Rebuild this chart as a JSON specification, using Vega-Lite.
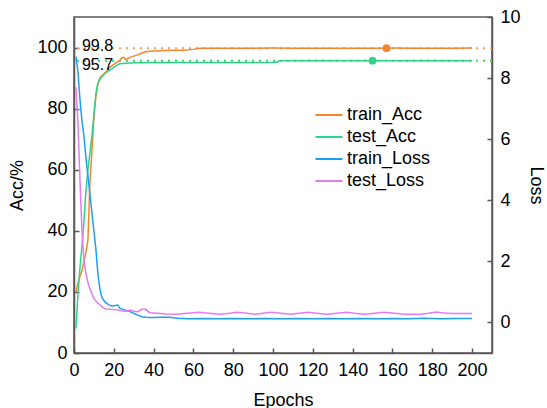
{
  "$schema": "https://vega.github.io/schema/vega-lite/v6.json",
  "width": 418,
  "height": 336,
  "autosize": {"type": "none"},
  "padding": {"left": 74, "top": 17, "right": 55, "bottom": 55},
  "background": "white",
  "config": {
    "font": "Liberation Sans",
    "view": {"stroke": "#5b5555", "strokeWidth": 1.5},
    "axis": {
      "domainColor": "#5b5555", "domainWidth": 1.5,
      "tickColor": "#5b5555", "tickWidth": 1.5, "tickSize": -5,
      "grid": false, "labelFontSize": 18, "titleFontSize": 18,
      "titleFontWeight": "normal", "labelColor": "black", "titleColor": "black",
      "labelFlush": false, "labelOverlap": false
    },
    "legend": {
      "symbolType": "M-1.35,0H1.35", "symbolSize": 400, "symbolStrokeWidth": 2,
      "labelFontSize": 18, "labelColor": "black", "rowPadding": 2, "labelOffset": 7
    }
  },
  "datasets": {
    "acc": [
      {"epoch": 1, "series": "train_Acc", "value": 20},
      {"epoch": 2, "series": "train_Acc", "value": 23},
      {"epoch": 3, "series": "train_Acc", "value": 25},
      {"epoch": 4, "series": "train_Acc", "value": 27},
      {"epoch": 5, "series": "train_Acc", "value": 30},
      {"epoch": 6, "series": "train_Acc", "value": 33},
      {"epoch": 7, "series": "train_Acc", "value": 37},
      {"epoch": 8, "series": "train_Acc", "value": 56},
      {"epoch": 9, "series": "train_Acc", "value": 66},
      {"epoch": 10, "series": "train_Acc", "value": 77},
      {"epoch": 11, "series": "train_Acc", "value": 84},
      {"epoch": 12, "series": "train_Acc", "value": 88},
      {"epoch": 13, "series": "train_Acc", "value": 90},
      {"epoch": 14, "series": "train_Acc", "value": 90.8},
      {"epoch": 15, "series": "train_Acc", "value": 91.4},
      {"epoch": 16, "series": "train_Acc", "value": 92},
      {"epoch": 17, "series": "train_Acc", "value": 92.8},
      {"epoch": 18, "series": "train_Acc", "value": 93.5},
      {"epoch": 19, "series": "train_Acc", "value": 94},
      {"epoch": 20, "series": "train_Acc", "value": 94.5},
      {"epoch": 21, "series": "train_Acc", "value": 95},
      {"epoch": 22, "series": "train_Acc", "value": 95.4},
      {"epoch": 23, "series": "train_Acc", "value": 95.8},
      {"epoch": 24, "series": "train_Acc", "value": 96.7},
      {"epoch": 25, "series": "train_Acc", "value": 96.8},
      {"epoch": 26, "series": "train_Acc", "value": 96.1},
      {"epoch": 27, "series": "train_Acc", "value": 96.4},
      {"epoch": 28, "series": "train_Acc", "value": 96.8},
      {"epoch": 30, "series": "train_Acc", "value": 97.2},
      {"epoch": 32, "series": "train_Acc", "value": 97.6},
      {"epoch": 33, "series": "train_Acc", "value": 97.9},
      {"epoch": 34, "series": "train_Acc", "value": 98.2},
      {"epoch": 36, "series": "train_Acc", "value": 98.6},
      {"epoch": 38, "series": "train_Acc", "value": 98.8},
      {"epoch": 41, "series": "train_Acc", "value": 98.9},
      {"epoch": 45, "series": "train_Acc", "value": 99.0},
      {"epoch": 50, "series": "train_Acc", "value": 99.1},
      {"epoch": 55, "series": "train_Acc", "value": 99.15},
      {"epoch": 60, "series": "train_Acc", "value": 99.4},
      {"epoch": 62, "series": "train_Acc", "value": 99.7},
      {"epoch": 65, "series": "train_Acc", "value": 99.75},
      {"epoch": 70, "series": "train_Acc", "value": 99.8},
      {"epoch": 80, "series": "train_Acc", "value": 99.78},
      {"epoch": 90, "series": "train_Acc", "value": 99.8},
      {"epoch": 100, "series": "train_Acc", "value": 99.82},
      {"epoch": 110, "series": "train_Acc", "value": 99.8},
      {"epoch": 120, "series": "train_Acc", "value": 99.79},
      {"epoch": 130, "series": "train_Acc", "value": 99.81},
      {"epoch": 140, "series": "train_Acc", "value": 99.8},
      {"epoch": 150, "series": "train_Acc", "value": 99.8},
      {"epoch": 160, "series": "train_Acc", "value": 99.82},
      {"epoch": 170, "series": "train_Acc", "value": 99.8},
      {"epoch": 180, "series": "train_Acc", "value": 99.81},
      {"epoch": 190, "series": "train_Acc", "value": 99.8},
      {"epoch": 200, "series": "train_Acc", "value": 99.82},
      {"epoch": 1, "series": "test_Acc", "value": 8},
      {"epoch": 2, "series": "test_Acc", "value": 19.6},
      {"epoch": 3, "series": "test_Acc", "value": 28},
      {"epoch": 4, "series": "test_Acc", "value": 35},
      {"epoch": 5, "series": "test_Acc", "value": 43},
      {"epoch": 6, "series": "test_Acc", "value": 53},
      {"epoch": 7, "series": "test_Acc", "value": 60},
      {"epoch": 8, "series": "test_Acc", "value": 65.5},
      {"epoch": 9, "series": "test_Acc", "value": 71},
      {"epoch": 10, "series": "test_Acc", "value": 78},
      {"epoch": 11, "series": "test_Acc", "value": 85},
      {"epoch": 12, "series": "test_Acc", "value": 88.3},
      {"epoch": 13, "series": "test_Acc", "value": 89.5},
      {"epoch": 14, "series": "test_Acc", "value": 90.4},
      {"epoch": 15, "series": "test_Acc", "value": 91.2},
      {"epoch": 16, "series": "test_Acc", "value": 91.8},
      {"epoch": 17, "series": "test_Acc", "value": 92.2},
      {"epoch": 18, "series": "test_Acc", "value": 92.6},
      {"epoch": 19, "series": "test_Acc", "value": 93},
      {"epoch": 20, "series": "test_Acc", "value": 93.5},
      {"epoch": 21, "series": "test_Acc", "value": 94},
      {"epoch": 22, "series": "test_Acc", "value": 94.4},
      {"epoch": 23, "series": "test_Acc", "value": 94.7},
      {"epoch": 25, "series": "test_Acc", "value": 94.8},
      {"epoch": 28, "series": "test_Acc", "value": 94.9},
      {"epoch": 32, "series": "test_Acc", "value": 95.0},
      {"epoch": 40, "series": "test_Acc", "value": 95.1},
      {"epoch": 50, "series": "test_Acc", "value": 95.1},
      {"epoch": 60, "series": "test_Acc", "value": 95.1},
      {"epoch": 70, "series": "test_Acc", "value": 95.12},
      {"epoch": 80, "series": "test_Acc", "value": 95.1},
      {"epoch": 90, "series": "test_Acc", "value": 95.1},
      {"epoch": 100, "series": "test_Acc", "value": 95.15},
      {"epoch": 102, "series": "test_Acc", "value": 95.2},
      {"epoch": 103, "series": "test_Acc", "value": 95.65},
      {"epoch": 105, "series": "test_Acc", "value": 95.7},
      {"epoch": 120, "series": "test_Acc", "value": 95.7},
      {"epoch": 140, "series": "test_Acc", "value": 95.7},
      {"epoch": 160, "series": "test_Acc", "value": 95.7},
      {"epoch": 180, "series": "test_Acc", "value": 95.7},
      {"epoch": 200, "series": "test_Acc", "value": 95.7}
    ],
    "loss": [
      {"epoch": 1, "series": "train_Loss", "value": 8.7},
      {"epoch": 2, "series": "train_Loss", "value": 8.2},
      {"epoch": 3, "series": "train_Loss", "value": 7.3},
      {"epoch": 4, "series": "train_Loss", "value": 6.6},
      {"epoch": 5, "series": "train_Loss", "value": 6.1},
      {"epoch": 6, "series": "train_Loss", "value": 5.4},
      {"epoch": 7, "series": "train_Loss", "value": 4.8},
      {"epoch": 8, "series": "train_Loss", "value": 4.2},
      {"epoch": 9, "series": "train_Loss", "value": 3.6},
      {"epoch": 10, "series": "train_Loss", "value": 3.0},
      {"epoch": 11, "series": "train_Loss", "value": 2.4},
      {"epoch": 12, "series": "train_Loss", "value": 1.6},
      {"epoch": 13, "series": "train_Loss", "value": 1.1},
      {"epoch": 14, "series": "train_Loss", "value": 0.82},
      {"epoch": 15, "series": "train_Loss", "value": 0.72},
      {"epoch": 16, "series": "train_Loss", "value": 0.65},
      {"epoch": 17, "series": "train_Loss", "value": 0.6},
      {"epoch": 18, "series": "train_Loss", "value": 0.56},
      {"epoch": 19, "series": "train_Loss", "value": 0.54},
      {"epoch": 20, "series": "train_Loss", "value": 0.55},
      {"epoch": 22, "series": "train_Loss", "value": 0.57},
      {"epoch": 23, "series": "train_Loss", "value": 0.47},
      {"epoch": 25, "series": "train_Loss", "value": 0.42},
      {"epoch": 27, "series": "train_Loss", "value": 0.38},
      {"epoch": 29, "series": "train_Loss", "value": 0.33},
      {"epoch": 31, "series": "train_Loss", "value": 0.27},
      {"epoch": 32, "series": "train_Loss", "value": 0.24},
      {"epoch": 34, "series": "train_Loss", "value": 0.19},
      {"epoch": 36, "series": "train_Loss", "value": 0.17},
      {"epoch": 40, "series": "train_Loss", "value": 0.16},
      {"epoch": 44, "series": "train_Loss", "value": 0.17},
      {"epoch": 48, "series": "train_Loss", "value": 0.17},
      {"epoch": 52, "series": "train_Loss", "value": 0.14},
      {"epoch": 57, "series": "train_Loss", "value": 0.12},
      {"epoch": 65, "series": "train_Loss", "value": 0.13},
      {"epoch": 72, "series": "train_Loss", "value": 0.12},
      {"epoch": 80, "series": "train_Loss", "value": 0.13},
      {"epoch": 88, "series": "train_Loss", "value": 0.12},
      {"epoch": 96, "series": "train_Loss", "value": 0.13},
      {"epoch": 104, "series": "train_Loss", "value": 0.12},
      {"epoch": 112, "series": "train_Loss", "value": 0.13},
      {"epoch": 120, "series": "train_Loss", "value": 0.12},
      {"epoch": 128, "series": "train_Loss", "value": 0.13},
      {"epoch": 136, "series": "train_Loss", "value": 0.12},
      {"epoch": 144, "series": "train_Loss", "value": 0.13},
      {"epoch": 152, "series": "train_Loss", "value": 0.12},
      {"epoch": 160, "series": "train_Loss", "value": 0.13},
      {"epoch": 168, "series": "train_Loss", "value": 0.12},
      {"epoch": 176, "series": "train_Loss", "value": 0.14},
      {"epoch": 184, "series": "train_Loss", "value": 0.12},
      {"epoch": 192, "series": "train_Loss", "value": 0.13},
      {"epoch": 200, "series": "train_Loss", "value": 0.13},
      {"epoch": 1, "series": "test_Loss", "value": 7.7},
      {"epoch": 2, "series": "test_Loss", "value": 6.5},
      {"epoch": 3, "series": "test_Loss", "value": 4.66},
      {"epoch": 4, "series": "test_Loss", "value": 3.0},
      {"epoch": 5, "series": "test_Loss", "value": 2.04},
      {"epoch": 6, "series": "test_Loss", "value": 1.61},
      {"epoch": 7, "series": "test_Loss", "value": 1.3},
      {"epoch": 8, "series": "test_Loss", "value": 1.1},
      {"epoch": 9, "series": "test_Loss", "value": 0.94},
      {"epoch": 10, "series": "test_Loss", "value": 0.78},
      {"epoch": 11, "series": "test_Loss", "value": 0.7},
      {"epoch": 12, "series": "test_Loss", "value": 0.63},
      {"epoch": 13, "series": "test_Loss", "value": 0.58},
      {"epoch": 14, "series": "test_Loss", "value": 0.52},
      {"epoch": 15, "series": "test_Loss", "value": 0.47},
      {"epoch": 16, "series": "test_Loss", "value": 0.44},
      {"epoch": 18, "series": "test_Loss", "value": 0.43},
      {"epoch": 20, "series": "test_Loss", "value": 0.42},
      {"epoch": 22, "series": "test_Loss", "value": 0.41},
      {"epoch": 24, "series": "test_Loss", "value": 0.38},
      {"epoch": 26, "series": "test_Loss", "value": 0.36},
      {"epoch": 28, "series": "test_Loss", "value": 0.41},
      {"epoch": 30, "series": "test_Loss", "value": 0.37},
      {"epoch": 32, "series": "test_Loss", "value": 0.35},
      {"epoch": 34, "series": "test_Loss", "value": 0.43},
      {"epoch": 36, "series": "test_Loss", "value": 0.43},
      {"epoch": 38, "series": "test_Loss", "value": 0.32},
      {"epoch": 42, "series": "test_Loss", "value": 0.3},
      {"epoch": 46, "series": "test_Loss", "value": 0.28},
      {"epoch": 51, "series": "test_Loss", "value": 0.27},
      {"epoch": 57, "series": "test_Loss", "value": 0.3},
      {"epoch": 63, "series": "test_Loss", "value": 0.33},
      {"epoch": 68, "series": "test_Loss", "value": 0.3},
      {"epoch": 73, "series": "test_Loss", "value": 0.27},
      {"epoch": 78, "series": "test_Loss", "value": 0.3},
      {"epoch": 82, "series": "test_Loss", "value": 0.33},
      {"epoch": 87, "series": "test_Loss", "value": 0.3},
      {"epoch": 91, "series": "test_Loss", "value": 0.27},
      {"epoch": 95, "series": "test_Loss", "value": 0.3},
      {"epoch": 99, "series": "test_Loss", "value": 0.33},
      {"epoch": 104, "series": "test_Loss", "value": 0.3},
      {"epoch": 109, "series": "test_Loss", "value": 0.27},
      {"epoch": 113, "series": "test_Loss", "value": 0.3},
      {"epoch": 118, "series": "test_Loss", "value": 0.33},
      {"epoch": 122, "series": "test_Loss", "value": 0.3},
      {"epoch": 127, "series": "test_Loss", "value": 0.27},
      {"epoch": 132, "series": "test_Loss", "value": 0.3},
      {"epoch": 137, "series": "test_Loss", "value": 0.33},
      {"epoch": 141, "series": "test_Loss", "value": 0.3},
      {"epoch": 146, "series": "test_Loss", "value": 0.27},
      {"epoch": 151, "series": "test_Loss", "value": 0.3},
      {"epoch": 156, "series": "test_Loss", "value": 0.33},
      {"epoch": 161, "series": "test_Loss", "value": 0.3},
      {"epoch": 166, "series": "test_Loss", "value": 0.27},
      {"epoch": 170, "series": "test_Loss", "value": 0.27},
      {"epoch": 174, "series": "test_Loss", "value": 0.27},
      {"epoch": 178, "series": "test_Loss", "value": 0.3},
      {"epoch": 182, "series": "test_Loss", "value": 0.34},
      {"epoch": 186, "series": "test_Loss", "value": 0.31},
      {"epoch": 190, "series": "test_Loss", "value": 0.29},
      {"epoch": 195, "series": "test_Loss", "value": 0.29},
      {"epoch": 200, "series": "test_Loss", "value": 0.29}
    ],
    "best": [
      {"series": "train_Acc", "epoch": 157, "value": 99.8, "label": "99.8", "labelEpoch": 4},
      {"series": "test_Acc", "epoch": 150, "value": 95.7, "label": "95.7", "labelEpoch": 4}
    ]
  },
  "layer": [
    {
      "layer": [
        {
          "data": {"name": "best"},
          "transform": [{"filter": "datum.series === 'train_Acc'"}],
          "mark": {"type": "rule", "color": "#F5A060", "strokeWidth": 2, "strokeDash": [2, 5]},
          "encoding": {"y": {"field": "value", "type": "quantitative"}}
        },
        {
          "data": {"name": "best"},
          "transform": [{"filter": "datum.series === 'test_Acc'"}],
          "mark": {"type": "rule", "color": "#3AD86A", "strokeWidth": 2, "strokeDash": [2, 5]},
          "encoding": {"y": {"field": "value", "type": "quantitative"}}
        },
        {
          "data": {"name": "acc"},
          "mark": {"type": "line", "strokeWidth": 1.5},
          "encoding": {
            "x": {"field": "epoch", "type": "quantitative", "scale": {"domain": [0, 210], "nice": false},
                  "axis": {"values": [0, 20, 40, 60, 80, 100, 120, 140, 160, 180, 200], "title": "Epochs", "labelPadding": 13, "titlePadding": 12}},
            "y": {"field": "value", "type": "quantitative", "scale": {"domain": [0, 110], "nice": false},
                  "axis": {"orient": "left", "values": [0, 20, 40, 60, 80, 100], "title": "Acc/%", "labelPadding": 12, "titlePadding": 10}},
            "color": {"field": "series", "type": "nominal",
                      "scale": {"domain": ["train_Acc", "test_Acc", "train_Loss", "test_Loss"], "range": ["#F5862F", "#2ED38A", "#1E9EF5", "#E37BF2"]},
                      "legend": {"title": null, "orient": "none", "legendX": 244, "legendY": 87}}
          }
        },
        {
          "data": {"name": "best"},
          "transform": [{"filter": "datum.series === 'train_Acc'"}],
          "mark": {"type": "point", "filled": true, "opacity": 1, "size": 60, "color": "#F5862F"},
          "encoding": {"x": {"field": "epoch", "type": "quantitative"}, "y": {"field": "value", "type": "quantitative"}}
        },
        {
          "data": {"name": "best"},
          "transform": [{"filter": "datum.series === 'test_Acc'"}],
          "mark": {"type": "point", "filled": true, "opacity": 1, "size": 60, "color": "#2ED38A"},
          "encoding": {"x": {"field": "epoch", "type": "quantitative"}, "y": {"field": "value", "type": "quantitative"}}
        },
        {
          "data": {"name": "best"},
          "transform": [{"filter": "datum.series === 'train_Acc'"}],
          "mark": {"type": "text", "align": "left", "baseline": "middle", "fontSize": 16, "color": "black", "dy": -2},
          "encoding": {"x": {"field": "labelEpoch", "type": "quantitative"}, "y": {"field": "value", "type": "quantitative"}, "text": {"field": "label"}}
        },
        {
          "data": {"name": "best"},
          "transform": [{"filter": "datum.series === 'test_Acc'"}],
          "mark": {"type": "text", "align": "left", "baseline": "middle", "fontSize": 16, "color": "black", "dy": 4},
          "encoding": {"x": {"field": "labelEpoch", "type": "quantitative"}, "y": {"field": "value", "type": "quantitative"}, "text": {"field": "label"}}
        }
      ]
    },
    {
      "data": {"name": "loss"},
      "mark": {"type": "line", "strokeWidth": 1.5},
      "encoding": {
        "x": {"field": "epoch", "type": "quantitative", "scale": {"domain": [0, 210], "nice": false}},
        "y": {"field": "value", "type": "quantitative", "scale": {"domain": [-1, 10], "nice": false},
              "axis": {"orient": "right", "values": [0, 2, 4, 6, 8, 10], "title": "Loss", "labelPadding": 13, "titlePadding": 6}},
        "color": {"field": "series", "type": "nominal",
                  "legend": {"title": null, "orient": "none", "legendX": 244, "legendY": 87}}
      }
    }
  ],
  "resolve": {"scale": {"y": "independent"}}
}
